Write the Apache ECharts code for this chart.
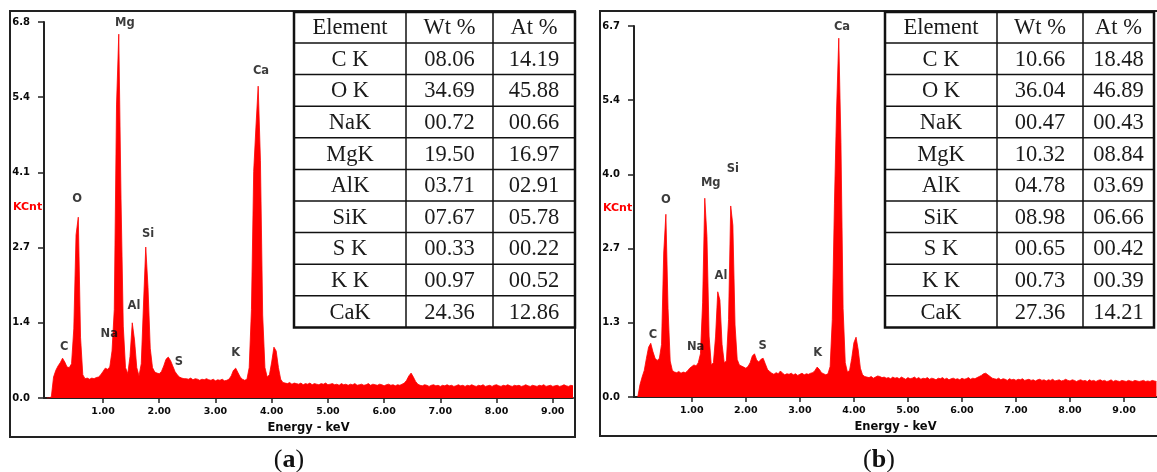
<!DOCTYPE html>
<html>
<head>
<meta charset="utf-8">
<title>EDS spectra</title>
<script src="https://cdn.jsdelivr.net/npm/echarts@6/dist/echarts.min.js"></script>
<style>
html,body{margin:0;padding:0;background:#fff}
#main{width:1157px;height:472px}
</style>
</head>
<body>
<div id="main"></div>
<script>
// channel width of both spectra (keV), counts in KCnt per channel
var channelStep = 0.04;

var countsA = [
  0, 0, 0.02, 0.38, 0.50, 0.58, 0.64, 0.72, 0.65, 0.56,
  0.55, 0.62, 1.25, 2.95, 3.27, 1.10, 0.42, 0.35, 0.36, 0.34,
  0.36, 0.35, 0.37, 0.38, 0.42, 0.48, 0.54, 0.52, 0.56, 0.85,
  1.6, 5.3, 6.58, 3.6, 1.3, 0.55, 0.44, 0.75, 1.36, 1.05,
  0.55, 0.40, 0.62, 1.7, 2.73, 2.0, 0.9, 0.55, 0.47, 0.45,
  0.44, 0.48, 0.58, 0.70, 0.74, 0.68, 0.58, 0.48, 0.42, 0.38,
  0.36, 0.35,
  0.35, 0.34, 0.36, 0.33, 0.35, 0.34, 0.32, 0.34, 0.33, 0.35,
  0.33, 0.32, 0.34, 0.31, 0.33, 0.32, 0.34, 0.31, 0.32, 0.34,
  0.40, 0.50, 0.54, 0.46, 0.38, 0.34, 0.32, 0.34,
  0.55, 1.6, 4.1, 4.9, 5.64, 4.3, 1.5, 0.55, 0.38, 0.42,
  0.65, 0.92, 0.85, 0.55, 0.34, 0.28,
  0.27, 0.26, 0.28, 0.25, 0.27, 0.26, 0.25, 0.27, 0.24, 0.26,
  0.25, 0.27, 0.24, 0.26, 0.25, 0.24, 0.26, 0.25, 0.27, 0.24,
  0.25, 0.26, 0.24, 0.25, 0.23, 0.26, 0.24, 0.25, 0.23, 0.25,
  0.24, 0.26, 0.23, 0.24, 0.25, 0.23, 0.24, 0.26, 0.23, 0.25,
  0.24, 0.23, 0.25, 0.24, 0.22, 0.24, 0.25, 0.23, 0.24, 0.22,
  0.24, 0.23, 0.25, 0.27,
  0.32, 0.40, 0.45, 0.38, 0.30, 0.25,
  0.23, 0.22, 0.24, 0.23, 0.21, 0.23, 0.24, 0.22, 0.23, 0.21,
  0.23, 0.22, 0.24, 0.22, 0.23, 0.21, 0.22, 0.24, 0.22, 0.23,
  0.21, 0.23, 0.22, 0.24, 0.22, 0.21, 0.23, 0.22, 0.24, 0.21,
  0.22, 0.23, 0.21, 0.23, 0.24, 0.22, 0.21, 0.23, 0.22, 0.24,
  0.22, 0.21, 0.23, 0.22, 0.23, 0.21, 0.22, 0.24, 0.22, 0.21,
  0.23, 0.22, 0.21, 0.23, 0.22, 0.24, 0.21, 0.22, 0.23, 0.21,
  0.22, 0.23, 0.21, 0.22, 0.24, 0.22, 0.21, 0.23, 0.22
];

var countsB = [
  0, 0.22, 0.36, 0.48, 0.70, 0.90, 0.97, 0.82, 0.70, 0.66,
  0.70, 0.95, 2.6, 3.30, 1.6, 0.65, 0.48, 0.45, 0.44, 0.46,
  0.43, 0.45, 0.44, 0.47, 0.52, 0.55, 0.58, 0.56, 0.62, 0.78,
  1.7, 3.59, 2.9, 1.1, 0.58, 0.62, 1.1, 1.9, 1.75, 0.95,
  0.62, 0.65, 1.4, 3.45, 3.1, 1.3, 0.68, 0.58, 0.56, 0.54,
  0.52, 0.55, 0.62, 0.74, 0.78, 0.67, 0.63, 0.68, 0.70, 0.60,
  0.50, 0.46,
  0.43, 0.41, 0.44, 0.42, 0.47, 0.43, 0.40, 0.42, 0.41, 0.43,
  0.40, 0.42, 0.39, 0.41, 0.43, 0.40, 0.42, 0.41, 0.43, 0.44,
  0.48, 0.54, 0.50, 0.44, 0.42, 0.40, 0.42, 0.55,
  1.4, 3.5, 5.2, 6.48, 4.6, 1.6, 0.62, 0.45, 0.48, 0.70,
  0.98, 1.08, 0.85, 0.52, 0.40, 0.37,
  0.36, 0.35, 0.37, 0.34, 0.36, 0.38, 0.37, 0.35, 0.36, 0.34,
  0.35, 0.33, 0.36, 0.34, 0.35, 0.33, 0.36, 0.34, 0.32, 0.35,
  0.33, 0.34, 0.36, 0.33, 0.35, 0.32, 0.34, 0.33, 0.35, 0.32,
  0.34, 0.33, 0.31, 0.34, 0.33, 0.35, 0.32, 0.34, 0.31, 0.33,
  0.34, 0.32, 0.33, 0.31, 0.34, 0.32, 0.33, 0.35, 0.32, 0.34,
  0.33, 0.35, 0.37, 0.39,
  0.42, 0.43, 0.40, 0.37, 0.34, 0.33,
  0.32, 0.34, 0.31, 0.33, 0.32, 0.30, 0.33, 0.31, 0.32, 0.30,
  0.32, 0.31, 0.33, 0.30, 0.31, 0.32, 0.30, 0.31, 0.29, 0.31,
  0.32, 0.30, 0.31, 0.29, 0.31, 0.30, 0.32, 0.29, 0.30, 0.31,
  0.29, 0.30, 0.32, 0.30, 0.29, 0.31, 0.30, 0.28, 0.30, 0.31,
  0.29, 0.30, 0.28, 0.31, 0.29, 0.30, 0.28, 0.30, 0.31, 0.29,
  0.30, 0.28, 0.29, 0.31, 0.28, 0.30, 0.29, 0.28, 0.30, 0.29,
  0.28, 0.30, 0.29, 0.28, 0.30, 0.29, 0.28, 0.29, 0.30, 0.28,
  0.29, 0.28, 0.30, 0.29, 0.28
];

var xTicks = [1, 2, 3, 4, 5, 6, 7, 8, 9];
var yTicksA = [0, 1.36, 2.72, 4.08, 5.44, 6.8];
var yTicksB = [0, 1.34, 2.68, 4.02, 5.36, 6.7];

// peak labels: element, and where the label sits [keV, KCnt]
var peakNames = ['C', 'O', 'Na', 'Mg', 'Al', 'Si', 'S', 'K', 'Ca'];
var peakLabelA = [[0.31, 0.92], [0.54, 3.60], [1.11, 1.16], [1.39, 6.78], [1.55, 1.66], [1.80, 2.97], [2.35, 0.65], [3.36, 0.81], [3.81, 5.91]];
var peakLabelB = [[0.28, 1.12], [0.52, 3.56], [1.07, 0.90], [1.35, 3.86], [1.54, 2.18], [1.76, 4.12], [2.31, 0.92], [3.33, 0.79], [3.78, 6.68]];

var tableHead = ['Element', 'Wt %', 'At %'];
var tableElements = ['C K', 'O K', 'NaK', 'MgK', 'AlK', 'SiK', 'S K', 'K K', 'CaK'];
var wtA = ['08.06', '34.69', '00.72', '19.50', '03.71', '07.67', '00.33', '00.97', '24.36'];
var atA = ['14.19', '45.88', '00.66', '16.97', '02.91', '05.78', '00.22', '00.52', '12.86'];
var wtB = ['10.66', '36.04', '00.47', '10.32', '04.78', '08.98', '00.65', '00.73', '27.36'];
var atB = ['18.48', '46.89', '00.43', '08.84', '03.69', '06.66', '00.42', '00.39', '14.21'];

var sans = 'DejaVu Sans';
var ink = '#0a0a0a';

function toSpectrum(counts) {
  return counts.map(function (v, i) { return [+(i * channelStep).toFixed(2), v]; });
}

function xAxisFor(idx, min, max) {
  return {
    type: 'value', gridIndex: idx, min: min, max: max,
    name: 'Energy - keV', nameLocation: 'middle', nameGap: 21,
    nameTextStyle: {color: ink, fontFamily: sans, fontWeight: 'bold', fontSize: 11.5},
    axisLine: {onZero: false, lineStyle: {color: '#222', width: 2}},
    axisTick: {customValues: xTicks, length: 5, lineStyle: {color: '#222', width: 1.5}},
    axisLabel: {customValues: xTicks, margin: 9, color: ink, fontFamily: sans, fontWeight: 'bold', fontSize: 9.5,
      formatter: function (v) { return v.toFixed(2); }},
    splitLine: {show: false}
  };
}

function yAxisFor(idx, ticks) {
  return {
    type: 'value', gridIndex: idx, min: 0, max: ticks[ticks.length - 1],
    axisLine: {show: true, onZero: false, lineStyle: {color: '#222', width: 2}},
    axisTick: {show: true, customValues: ticks, length: 6, lineStyle: {color: '#222', width: 1.5}},
    axisLabel: {customValues: ticks, margin: 14, color: ink, fontFamily: sans, fontWeight: 'bold', fontSize: 10,
      formatter: function (v) { return v.toFixed(1); }},
    splitLine: {show: false}
  };
}

function spectrumSeries(idx, counts) {
  return {
    type: 'line', xAxisIndex: idx, yAxisIndex: idx, data: toSpectrum(counts),
    showSymbol: false, symbol: 'none', silent: true,
    lineStyle: {color: '#ff0000', width: 0.8},
    areaStyle: {color: '#ff0000', opacity: 1}
  };
}

function labelSeries(idx, spots) {
  return {
    type: 'scatter', xAxisIndex: idx, yAxisIndex: idx, clip: false, silent: true, z: 5,
    symbolSize: 0.1, itemStyle: {color: 'rgba(0,0,0,0)'},
    data: spots.map(function (p, i) { return {name: peakNames[i], value: p}; }),
    label: {show: true, position: 'inside', formatter: function (p) { return p.name; },
      color: ink, fontFamily: sans, fontWeight: 'bold', fontSize: 11.5}
  };
}

function tableGraphics(cols, wt, at) {
  var top = 12, headH = 31, rowH = 31.6;
  var rows = [tableHead].concat(tableElements.map(function (e, i) { return [e, wt[i], at[i]]; }));
  var bottom = top + headH + rowH * tableElements.length;
  var els = [{
    type: 'rect', z: 10,
    shape: {x: cols[0], y: top, width: cols[3] - cols[0], height: bottom - top},
    style: {fill: '#fff', stroke: '#111', lineWidth: 2.5}
  }];
  for (var r = 0; r < tableElements.length; r++) {
    var y = top + headH + r * rowH;
    els.push({type: 'line', z: 11, shape: {x1: cols[0], y1: y, x2: cols[3], y2: y}, style: {stroke: '#111', lineWidth: 1.5}});
  }
  for (var c = 1; c < 3; c++) {
    els.push({type: 'line', z: 11, shape: {x1: cols[c], y1: top, x2: cols[c], y2: bottom}, style: {stroke: '#111', lineWidth: 1.5}});
  }
  rows.forEach(function (row, r) {
    var cy = r === 0 ? top + headH / 2 + 1 : top + headH + (r - 0.5) * rowH + 1;
    row.forEach(function (txt, c) {
      els.push({type: 'text', z: 12, x: (cols[c] + cols[c + 1]) / 2, y: cy,
        style: {text: txt, align: 'center', verticalAlign: 'middle', fill: '#1a1a1a',
          font: '22.5px "Liberation Serif"'}});
    });
  });
  return els;
}

function caption(x, letter) {
  return {type: 'text', x: x, y: 460, style: {
    text: '{p|(}{b|' + letter + '}{p|)}', align: 'center', verticalAlign: 'middle',
    rich: {
      p: {fontFamily: 'Liberation Serif', fontSize: 26, fill: '#111'},
      b: {fontFamily: 'Liberation Serif', fontSize: 26, fontWeight: 'bold', fill: '#111'}
    }}};
}

var chart = echarts.init(document.getElementById('main'), null, {renderer: 'canvas'});

chart.setOption({
  animation: false,
  backgroundColor: '#fff',
  grid: [
    {left: 44, top: 22, width: 529, height: 376},
    {left: 634, top: 26, width: 523, height: 371}
  ],
  xAxis: [xAxisFor(0, -0.05, 9.36), xAxisFor(1, -0.07, 9.61)],
  yAxis: [yAxisFor(0, yTicksA), yAxisFor(1, yTicksB)],
  series: [
    spectrumSeries(0, countsA), spectrumSeries(1, countsB),
    labelSeries(0, peakLabelA), labelSeries(1, peakLabelB)
  ],
  graphic: [
    {type: 'rect', shape: {x: 10, y: 11, width: 565, height: 426}, style: {fill: 'none', stroke: '#222', lineWidth: 2}},
    {type: 'rect', shape: {x: 600, y: 11, width: 600, height: 425}, style: {fill: 'none', stroke: '#222', lineWidth: 2}},
    {type: 'text', x: 13, y: 207, style: {text: 'KCnt', fill: '#ff0000', font: 'bold 11px "DejaVu Sans"', verticalAlign: 'middle'}},
    {type: 'text', x: 603, y: 208, style: {text: 'KCnt', fill: '#ff0000', font: 'bold 11px "DejaVu Sans"', verticalAlign: 'middle'}},
    caption(289, 'a'), caption(879, 'b')
  ].concat(tableGraphics([294, 406, 493, 575], wtA, atA), tableGraphics([885, 997, 1083, 1154], wtB, atB))
});
</script>
</body>
</html>
